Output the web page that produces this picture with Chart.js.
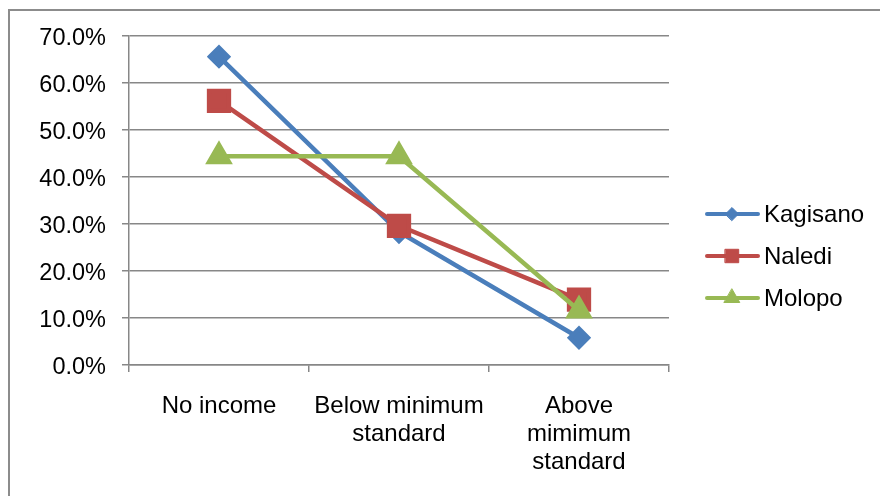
<!DOCTYPE html>
<html>
<head>
<meta charset="utf-8">
<script src="https://cdn.jsdelivr.net/npm/chart.js@4.4.1/dist/chart.umd.min.js"></script>
<style>
  body { margin: 0; background: #fff; }
  #wrap { position: relative; width: 880px; height: 496px; overflow: hidden; }
  #frame { position: absolute; left: 8px; top: 9px; width: 900px; height: 520px;
           border: 2px solid #8c8c8c; pointer-events: none; }
  canvas { position: absolute; left: 0; top: 0; }
</style>
</head>
<body>
<div id="wrap">
  <canvas id="chart" width="880" height="496"></canvas>
  <div id="frame"></div>
</div>
<script>
const categories = [['No income'], ['Below minimum', 'standard'], ['Above', 'mimimum', 'standard']];
const seriesNames = ['Kagisano', 'Naledi', 'Molopo'];
const kagisano = [65.6, 28.3, 5.8];
const naledi = [56.2, 29.6, 13.9];
const molopo = [44.4, 44.4, 11.6];
const yTicks = [0, 10, 20, 30, 40, 50, 60, 70];

const FONT = 'Liberation Sans, Arial, sans-serif';
const GRID = '#878787';

// legend on the right: line + marker + name, like the Excel one
const legendPlugin = {
  id: 'sideLegend',
  afterDraw(chart) {
    const ctx = chart.ctx;
    chart.data.datasets.forEach((ds, i) => {
      const y = 214 + i * 42;
      ctx.save();
      ctx.strokeStyle = ds.borderColor;
      ctx.lineWidth = 4;
      ctx.lineCap = 'round';
      ctx.beginPath();
      ctx.moveTo(707, y);
      ctx.lineTo(758, y);
      ctx.stroke();
      ctx.fillStyle = ds.backgroundColor;
      ctx.strokeStyle = ds.borderColor;
      ctx.lineWidth = 1;
      Chart.helpers.drawPoint(ctx, {pointStyle: ds.pointStyle, radius: ds.legendRadius, rotation: 0, borderWidth: 1}, 732, y);
      ctx.fillStyle = '#000';
      ctx.font = '24px ' + FONT;
      ctx.textBaseline = 'middle';
      ctx.textAlign = 'left';
      ctx.fillText(ds.label, 764, y + 1);
      ctx.restore();
    });
  }
};

new Chart(document.getElementById('chart'), {
  type: 'line',
  data: {
    labels: categories,
    datasets: [
      {label: seriesNames[0], data: kagisano, borderColor: '#4a7ebb', backgroundColor: '#4a7ebb', order: 3,
       pointStyle: 'rectRot', pointRadius: 9, legendRadius: 6.5, borderWidth: 4.5},
      {label: seriesNames[1], data: naledi, borderColor: '#be4b48', backgroundColor: '#be4b48', order: 2,
       pointStyle: 'rect', pointRadius: 14, legendRadius: 9.5, borderWidth: 4.5},
      {label: seriesNames[2], data: molopo, borderColor: '#98b954', backgroundColor: '#98b954', order: 1,
       pointStyle: 'triangle', pointRadius: 11.5, legendRadius: 9, borderWidth: 4.5}
    ]
  },
  options: {
    responsive: false,
    animation: false,
    layout: {padding: {top: 36, right: 211, left: 0, bottom: 0}},
    elements: {
      line: {tension: 0, fill: false},
      point: {borderWidth: 1, hoverRadius: 9}
    },
    plugins: {
      legend: {display: false},
      tooltip: {enabled: false}
    },
    scales: {
      x: {
        offset: true,
        afterFit(scale) { scale.height = 131; },
        grid: {offset: true, drawOnChartArea: false, tickLength: 7, color: GRID, lineWidth: 1.5},
        border: {color: GRID, width: 1.5},
        ticks: {color: '#000', font: {family: FONT, size: 24, lineHeight: 1.15}, padding: 21,
                maxRotation: 0, autoSkip: false}
      },
      y: {
        min: 0,
        max: 70,
        afterFit(scale) { scale.width = 129; },
        afterBuildTicks(scale) { scale.ticks = yTicks.map(v => ({value: v})); },
        grid: {color: GRID, lineWidth: 1.5, tickLength: 7},
        border: {color: GRID, width: 1.5},
        ticks: {color: '#000', font: {family: FONT, size: 23.5}, padding: 16, labelOffset: 3,
                callback: v => v.toFixed(1) + '%'}
      }
    }
  },
  plugins: [legendPlugin]
});
</script>
</body>
</html>
